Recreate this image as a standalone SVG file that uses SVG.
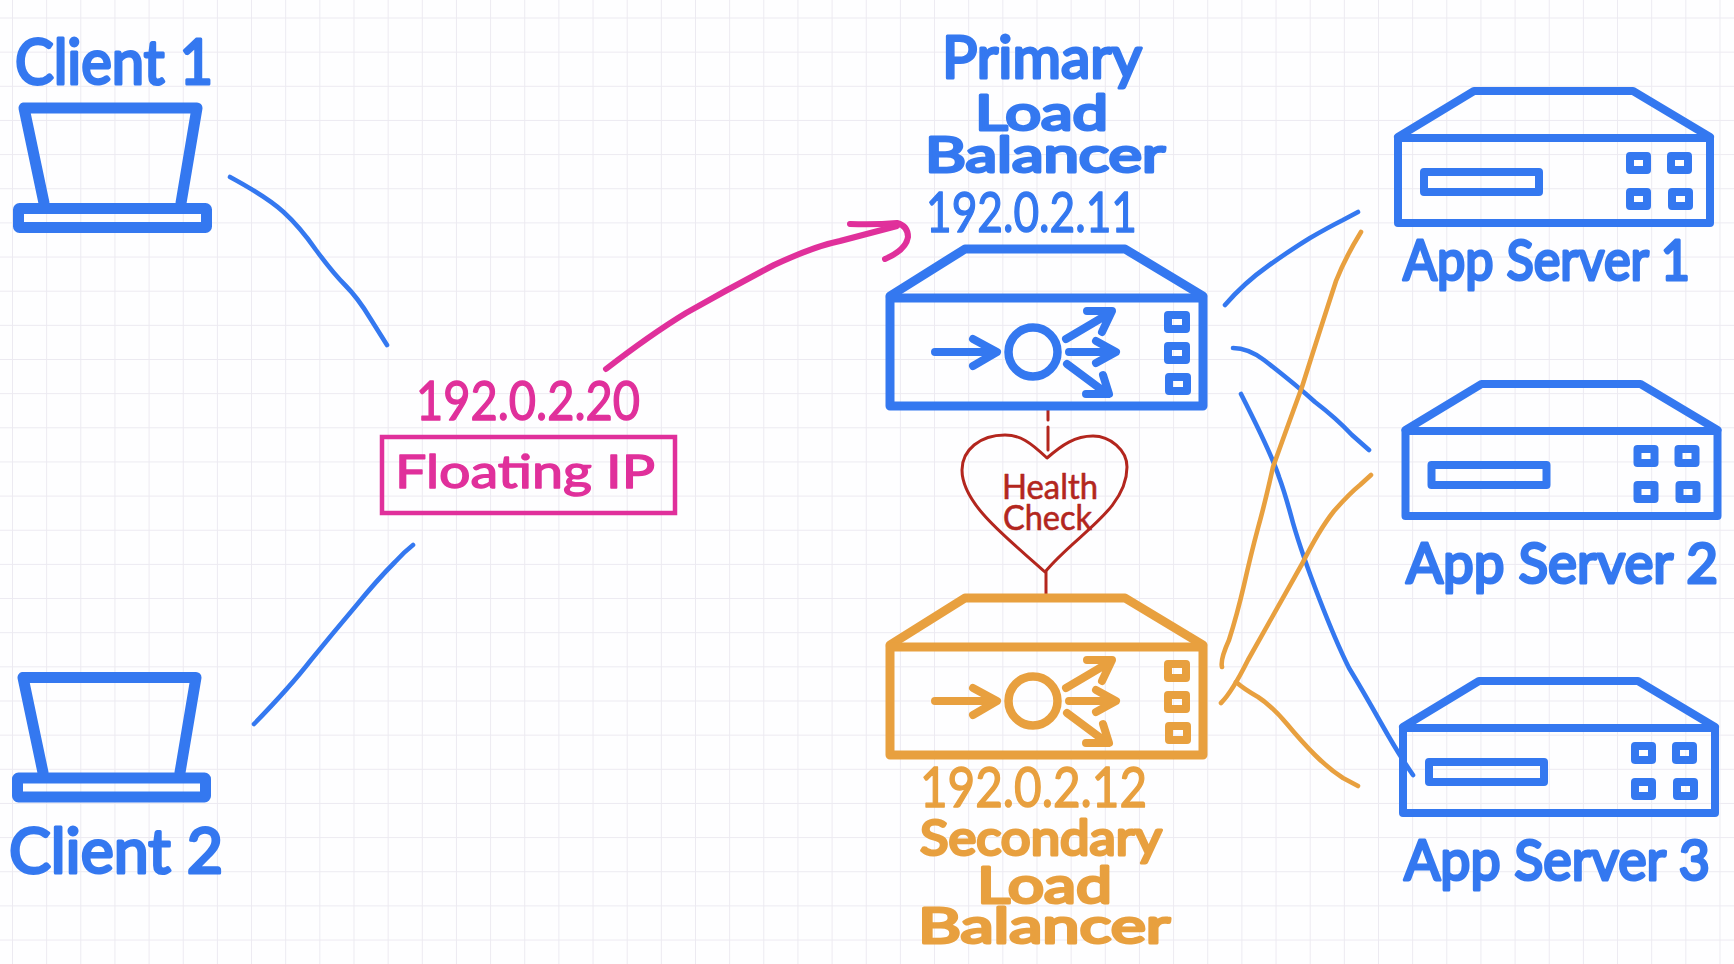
<svg xmlns="http://www.w3.org/2000/svg" width="1734" height="964" viewBox="0 0 1734 964">
<style>
.blue{color:#3478F0}.orange{color:#E8A03F}.pink{color:#E0309B}.red{color:#B3261E}
.t{font-family:"Lato","Noto Sans",sans-serif;fill:currentColor;stroke:currentColor;stroke-linejoin:round;stroke-width:3px}
.thin{stroke-width:1.4px}
.vthin{stroke-width:.6px}
.ln{fill:none;stroke:currentColor;stroke-linecap:round;stroke-linejoin:round;stroke-width:4.6px}
.pk{stroke-width:6px}
.hb{stroke-width:3px}
.ic{fill:none;stroke:currentColor;stroke-linejoin:round;stroke-linecap:round}
</style>
<defs>
<pattern id="grid" patternUnits="userSpaceOnUse" x="12" y="17.5" width="34.15" height="34.15">
<path d="M0 0V34.15M0 0H34.15" fill="none" stroke="#ECEAF1" stroke-width="2"/>
</pattern>
<g id="laptop" class="ic" stroke-width="11">
<path d="M44 203L24 108H197L181 203"/>
<rect x="18.5" y="208.5" width="188" height="19" rx="1"/>
</g>
<g id="server" class="ic" stroke-width="8">
<path d="M1398 137L1474 91H1633L1710 137"/>
<rect x="1398" y="138" width="312" height="85"/>
<rect x="1424" y="172" width="115" height="20"/>
<rect x="1630" y="156" width="17" height="14"/>
<rect x="1671" y="156" width="17" height="14"/>
<rect x="1630" y="192" width="17" height="14"/>
<rect x="1672" y="192" width="17" height="14"/>
</g>
<g id="lb" class="ic" stroke-width="9">
<path d="M890 296L965 249H1125L1203 296"/>
<rect x="890" y="298" width="313" height="108"/>
<circle cx="1033" cy="352" r="24.5" stroke-width="8.5"/>
<g stroke-width="8">
<path d="M935 352H996M973 339L997 352L973 366"/>
<path d="M1066 339L1110 313M1087 311L1112 311L1102 332"/>
<path d="M1069 352H1114M1096 341L1116 352L1096 363"/>
<path d="M1067 364L1106 393M1103 375L1109 394L1086 394"/>
<rect x="1168" y="315" width="18" height="14"/>
<rect x="1168" y="346" width="18" height="14"/>
<rect x="1169" y="377" width="18" height="14"/>
</g>
</g>
</defs>
<rect width="1734" height="964" fill="#FEFEFF"/>
<rect width="1734" height="964" fill="url(#grid)"/>

<g id="connectors">
<g class="blue">
<path class="ln" d="M230 177Q267 197 283.5 212Q300 227 316 250Q333 273 345 285Q358 298 370 318L387 345"/>
<path class="ln" d="M254 724Q290 687 311 660Q333 633 355 607Q377 580 395 562Q404 552 413 545"/>
<path class="ln" d="M1225 305Q1244 283 1268 266Q1292 249 1310 238Q1329 227 1343 220L1358 212"/>
<path class="ln" d="M1233 348Q1248 348 1264 360Q1295 384 1315 402Q1336 418 1352 435L1369 450"/>
<path class="ln" d="M1241 394Q1272 455 1279 477Q1285 493 1293 523Q1302 554 1319 598Q1336 642 1349 668Q1363 691 1381 723Q1399 755 1413 775"/>
</g>
<g class="orange">
<path class="ln" d="M1222 667Q1220 660 1229 640Q1237 615 1244 585Q1251 554 1258 528Q1265 503 1273 467Q1288 425 1302 387Q1320 330 1336 281Q1345 258 1361 232"/>
<path class="ln" d="M1221 703Q1232 692 1248 660Q1275 612 1302 564Q1319 530 1334 511Q1350 493 1360 485L1371 475"/>
<path class="ln" d="M1236 682Q1244 689 1258 697Q1272 706 1287 724Q1302 742 1315 755Q1329 769 1343 778L1358 786"/>
</g>
<g class="pink">
<path class="ln pk" d="M606 369Q650 335 686 313Q730 288 774 265Q815 246 840 241Q870 233 897 226"/>
<path class="ln pk" d="M850 224Q875 225 897 223Q908 226 908 237Q906 250 885 259"/>
</g>
<g class="red">
<path class="ln hb" d="M1048 408V420M1048 427V450M1046 572V596"/>
</g>
</g>

<g id="client-1" class="blue"><use href="#laptop"/>
<text class="t" x="15" y="84" font-size="62" textLength="198" lengthAdjust="spacingAndGlyphs">Client 1</text></g>
<g id="client-2" class="blue"><use href="#laptop" transform="translate(-1 569.5)"/>
<text class="t" x="9" y="873" font-size="62" textLength="214" lengthAdjust="spacingAndGlyphs">Client 2</text></g>

<g id="floating-ip" class="pink">
<text class="t thin" x="416" y="420" font-size="54" textLength="224" lengthAdjust="spacingAndGlyphs">192.0.2.20</text>
<rect x="382" y="437" width="293" height="76" fill="none" stroke="currentColor" stroke-width="4.5"/>
<text class="t thin" x="395" y="488" font-size="46" textLength="260" lengthAdjust="spacingAndGlyphs">Floating IP</text>
</g>

<g id="primary-lb" class="blue">
<text class="t" x="942" y="78" font-size="58" textLength="200" lengthAdjust="spacingAndGlyphs">Primary</text>
<text class="t" x="975" y="130" font-size="48" textLength="133" lengthAdjust="spacingAndGlyphs">Load</text>
<text class="t" x="925" y="172" font-size="48" textLength="240" lengthAdjust="spacingAndGlyphs">Balancer</text>
<text class="t thin" x="926" y="232" font-size="56" textLength="211" lengthAdjust="spacingAndGlyphs">192.0.2.11</text>
<use href="#lb"/>
</g>

<g id="health-check" class="red">
<path d="M1047 458C1030 442 1020 435 1005 435C980 435 962 450 962 470C962 505 1010 540 1045 572C1075 535 1127 510 1127 467C1127 450 1110 436 1093 436C1075 436 1062 445 1047 458Z" fill="none" stroke="currentColor" stroke-width="3" stroke-linejoin="round"/>
<text class="t vthin" x="1002" y="499" font-size="34" textLength="96" lengthAdjust="spacingAndGlyphs">Health</text>
<text class="t vthin" x="1003" y="530" font-size="34" textLength="89" lengthAdjust="spacingAndGlyphs">Check</text>
</g>

<g id="secondary-lb" class="orange">
<use href="#lb" transform="translate(0 349)"/>
<text class="t thin" x="920" y="807" font-size="56" textLength="227" lengthAdjust="spacingAndGlyphs">192.0.2.12</text>
<text class="t" x="920" y="855" font-size="48" textLength="242" lengthAdjust="spacingAndGlyphs">Secondary</text>
<text class="t" x="977" y="903" font-size="50" textLength="135" lengthAdjust="spacingAndGlyphs">Load</text>
<text class="t" x="918" y="943" font-size="48" textLength="252" lengthAdjust="spacingAndGlyphs">Balancer</text>
</g>

<g id="app-server-1" class="blue"><use href="#server"/>
<text class="t" x="1403" y="280" font-size="56" textLength="287" lengthAdjust="spacingAndGlyphs">App Server 1</text></g>
<g id="app-server-2" class="blue"><use href="#server" transform="translate(7.5 293)"/>
<text class="t" x="1406" y="583" font-size="56" textLength="312" lengthAdjust="spacingAndGlyphs">App Server 2</text></g>
<g id="app-server-3" class="blue"><use href="#server" transform="translate(5 590)"/>
<text class="t" x="1404" y="880" font-size="56" textLength="306" lengthAdjust="spacingAndGlyphs">App Server 3</text></g>
</svg>
